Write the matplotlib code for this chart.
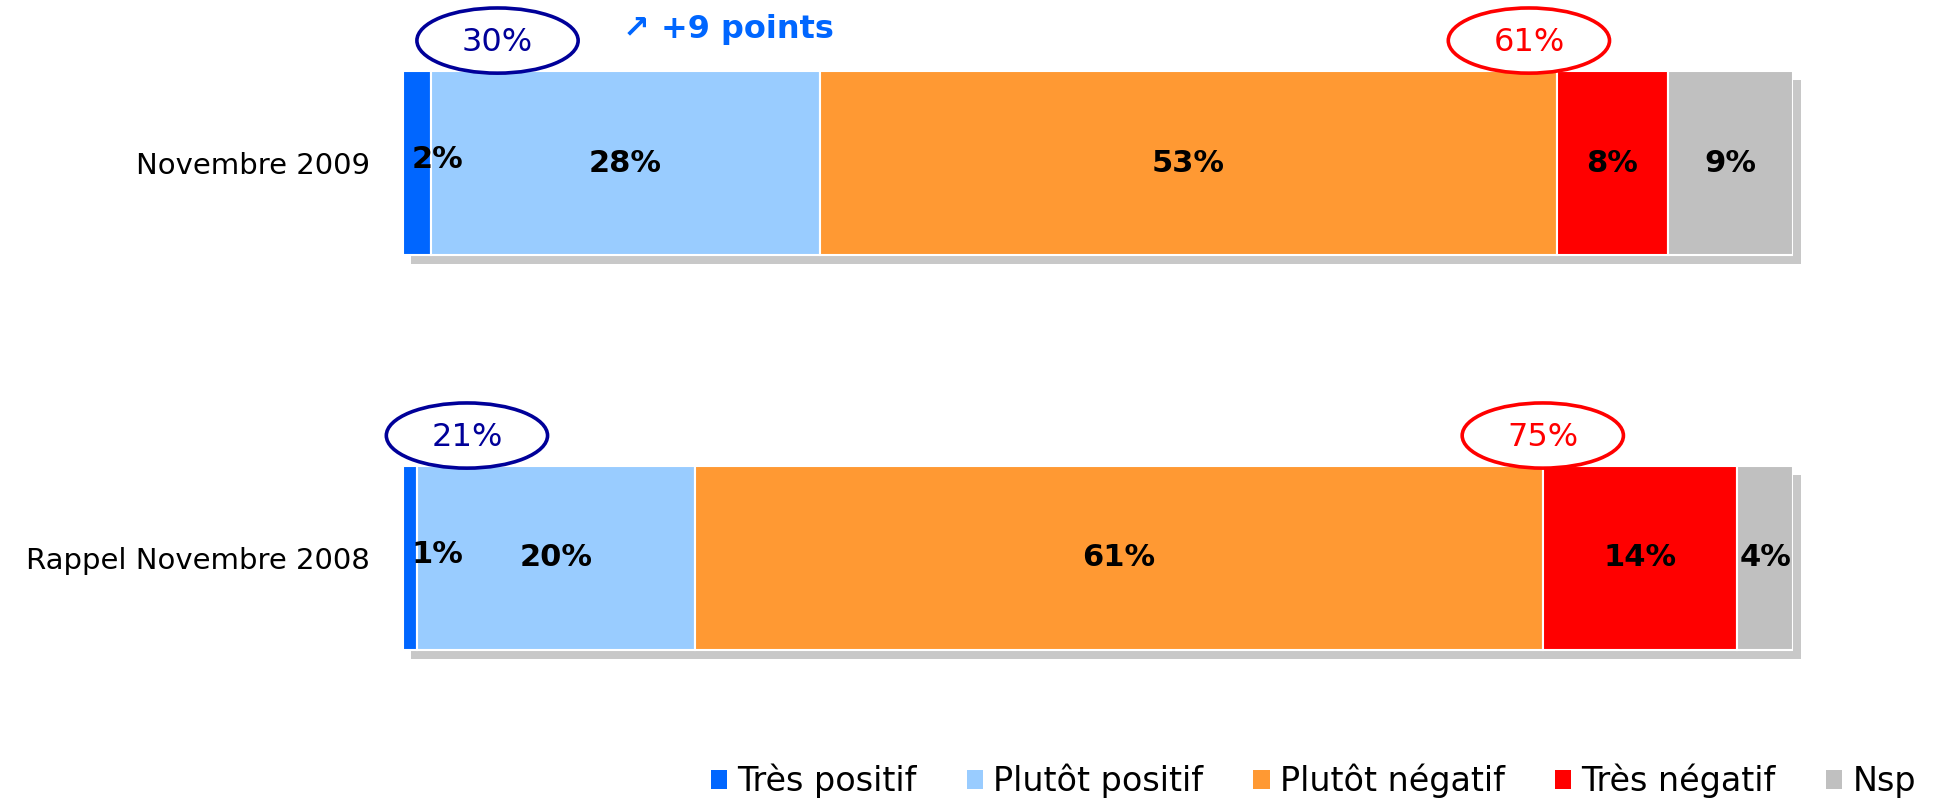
import matplotlib
matplotlib.use("Agg")
import matplotlib.pyplot as plt
import matplotlib.transforms as mtransforms
from matplotlib.patches import Ellipse, Patch

categories = ["Novembre 2009", "Rappel Novembre 2008"]
series = ["Très positif", "Plutôt positif", "Plutôt négatif", "Très négatif", "Nsp"]
tres_positif = [2, 1]
plutot_positif = [28, 20]
plutot_negatif = [53, 61]
tres_negatif = [8, 14]
nsp = [9, 4]
evolution = "+9 points"

colors = ["#0066FF", "#99CCFF", "#FF9933", "#FF0000", "#C0C0C0"]
values = [tres_positif, plutot_positif, plutot_negatif, tres_negatif, nsp]

plt.rcParams["font.family"] = ["DejaVu Sans"]

fig = plt.figure(figsize=(19.38, 8), dpi=100)
ax = fig.add_axes([403 / 1938, 0, 1390 / 1938, 1])
ax.set_xlim(0, 100)
ax.set_ylim(1.6127, -0.4127)
for s in ax.spines.values():
    s.set_visible(False)
ax.set_xticks([])

y = list(range(len(categories)))
bar_h = 0.468

# drop shadow behind each bar
totals = [sum(v[i] for v in values) for i in y]
shadow = mtransforms.offset_copy(ax.transData, fig=fig, x=8, y=-9, units="dots")
ax.barh(y, totals, height=bar_h, color="#C8C8C8", transform=shadow, zorder=1,
        clip_on=False)

left = [0] * len(y)
for name, vals, col in zip(series, values, colors):
    ax.barh(y, vals, left=left, height=bar_h, color=col, edgecolor="white",
            linewidth=1.5, zorder=2, label=name)
    for i, v in enumerate(vals):
        if v < 3:
            ax.text(left[i] + 0.6, y[i] - 0.01, f"{v}%", ha="left", va="center",
                    fontsize=22, fontweight="bold", zorder=4)
        else:
            ax.text(left[i] + v / 2, y[i], f"{v}%", ha="center", va="center",
                    fontsize=22, fontweight="bold", zorder=4)
    left = [l + v for l, v in zip(left, vals)]

# totals in ellipses
pos_x = [6.8, 4.6]
neg_x = [81.0, 82.0]
for i in y:
    pos = tres_positif[i] + plutot_positif[i]
    neg = plutot_negatif[i] + tres_negatif[i]
    for cx, txt, col in [(pos_x[i], f"{pos}%", "#000099"), (neg_x[i], f"{neg}%", "#FF0000")]:
        ax.add_patch(Ellipse((cx, y[i] - 0.31), 11.6, 0.165, facecolor="white",
                             edgecolor=col, linewidth=2.6, zorder=5, clip_on=False))
        ax.text(cx, y[i] - 0.305, txt, ha="center", va="center", color=col,
                fontsize=23, zorder=6)

ax.text(15.8, -0.337, "\u2197 " + evolution, ha="left", va="center",
        color="#0066FF", fontsize=23, fontweight="bold")

ax.set_yticks(y)
ax.set_yticklabels(categories, fontsize=21)
ax.tick_params(axis="y", length=0, pad=24)

handles = [Patch(facecolor=c) for c in colors]
fig.legend(handles, series, loc="center right", bbox_to_anchor=(1946 / 1938, 1 - 781 / 800),
           ncol=5, frameon=False, fontsize=24, handlelength=0.5, handleheight=0.5,
           handletextpad=0.3, columnspacing=1.5)

fig.savefig("out.png", dpi=100)
